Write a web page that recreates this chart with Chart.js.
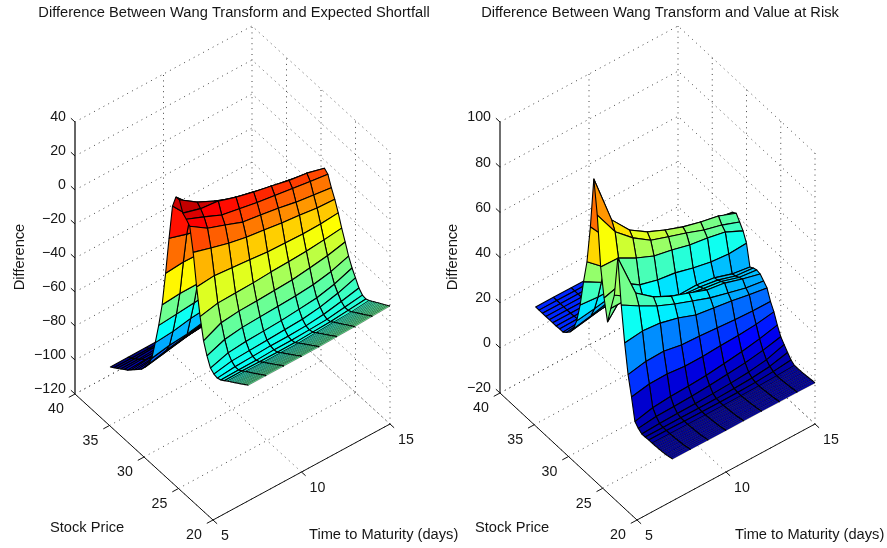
<!DOCTYPE html>
<html>
<head>
<meta charset="utf-8">
<title>Wang Transform differences</title>
<script src="https://cdn.jsdelivr.net/npm/chart.js@4"></script>
<style>
  html, body { margin: 0; padding: 0; background: #fff; }
  body { position: relative; width: 887px; height: 548px; overflow: hidden; }
  canvas { position: absolute; top: 0; }
  #esChart { left: 0; }
  #varChart { left: 433px; }
</style>
</head>
<body>
<canvas id="esChart" width="468" height="548"></canvas>
<canvas id="varChart" width="454" height="548"></canvas>
<script>
// axis ticks
const stockTicks = [20, 25, 30, 35, 40];
const maturityTicks = [5, 10, 15];
const esTicks = [-120, -100, -80, -60, -40, -20, 0, 20, 40];
const varTicks = [-20, 0, 20, 40, 60, 80, 100];

// mesh of the surfaces
const maturities = [7, 8, 9, 10, 11, 12, 13, 14, 15];
const stockPrices = [20, 20.25, 20.5, 20.75, 21, 21.25, 21.5, 21.75, 22, 22.25, 22.5, 22.75, 23,
  23.5, 24, 24.5, 25, 25.5, 26, 26.5, 27, 27.5, 28, 28.5, 29, 29.5, 30, 30.5, 31, 31.5, 32, 32.5,
  33, 33.5, 34, 34.5, 35, 35.5, 36, 36.5, 37, 37.5, 38, 38.5, 39, 39.5, 40];

// one row per stock price, one value per maturity
const esDifference = [
  [-52, -52, -52, -52, -52, -51.7, -51.5, -51, -50.6],
  [-52.7, -52.7, -52.7, -52.7, -52.7, -52.4, -52.2, -51.7, -51.3],
  [-53.5, -53.5, -53.5, -53.5, -53.5, -53.2, -52.9, -52.4, -52],
  [-54.2, -54.2, -54.3, -54.3, -54.2, -53.9, -53.6, -53.2, -52.6],
  [-55, -55, -55, -55, -55, -54.7, -54.3, -53.9, -53.3],
  [-55.7, -55.7, -55.8, -55.8, -55.7, -55.4, -55, -54.6, -53.9],
  [-56.4, -56.4, -56.5, -56.5, -56.5, -56.1, -55.8, -55.3, -54.6],
  [-57.1, -57.2, -57.3, -57.3, -57.2, -56.9, -56.5, -56, -55.2],
  [-57.9, -57.9, -58, -58, -58, -57.6, -57.2, -56.7, -55.9],
  [-58.6, -58.6, -58.8, -58.8, -58.7, -58.3, -57.9, -57.4, -56.5],
  [-59.3, -59.3, -59.5, -59.5, -59.5, -59.1, -58.6, -58.1, -57.2],
  [-60, -60, -60.2, -60.2, -60.2, -59.8, -59.3, -58.8, -57.9],
  [-60.7, -60.7, -61, -61, -61, -60.5, -60, -59.5, -58.5],
  [-62.3, -62.3, -62.5, -62.5, -62.5, -62, -61.5, -60.5, -59.4],
  [-63.8, -63.5, -63.5, -63, -63, -62.5, -62, -60.5, -59],
  [-64.5, -63.5, -63, -62.5, -62.5, -62, -61, -59, -56.7],
  [-64, -62, -61.5, -61, -60.5, -60, -58.5, -56, -52.6],
  [-62.3, -59, -58, -57.5, -57, -56, -55, -52.5, -48.6],
  [-57, -53, -51.5, -51, -50.5, -50, -49, -47, -43.5],
  [-50, -45, -43.8, -43.5, -43, -42.4, -41, -39.5, -37],
  [-37.6, -35.3, -35, -34.7, -34, -33.6, -33, -32, -30.7],
  [-22, -21, -22, -23, -24, -24.4, -24.7, -24.5, -23.6],
  [-3.5, -6.6, -9.4, -11.5, -13, -14.5, -15.5, -17, -17.5],
  [10, 3.2, -0.6, -4.5, -6, -7.6, -9.7, -11.2, -12.5],
  [12.3, 8, 3.5, 1.5, -0.5, -2, -3.5, -5, -6.5],
  [14, 11, 9.8, 6.5, 3.8, 1.7, -0.6, -2, -4.8],
  [20, 13, 8, 4, 1.5, -1, -3, -5, -7.5],
  [19.8, 9.4, 5, 1, -2, -5, -7, -9, -11.5],
  [12.6, 1, -3, -6, -9, -12, -14, -16, -18],
  [-8.2, -11.4, -14, -17, -20, -23, -25, -27, -29],
  [-30.6, -29.7, -30, -31, -32, -33, -34, -35, -36],
  [-51, -50, -50, -49, -49, -48, -48, -47, -47],
  [-65, -64, -63, -62, -61, -60, -59, -58, -58],
  [-77, -76, -74, -73, -71, -70, -69, -68, -67],
  [-88, -86, -85, -83, -81, -79, -78, -77, -76],
  [-93.5, -91, -89, -87, -85, -83, -82, -81, -80],
  [-97, -95, -93, -91, -89, -87, -85, -84, -83],
  [-100, -98, -96, -94.5, -93, -91, -90, -89, -88],
  [-102, -100.5, -99, -97.5, -96, -95, -94, -93, -92],
  [-104, -103, -102, -101, -100, -99, -98, -97, -96],
  [-106, -105, -104.5, -104, -103, -102, -101, -100, -100],
  [-108, -107.5, -107, -106.5, -106, -105, -104.5, -104, -103],
  [-109.5, -109, -109, -108.5, -108, -107.5, -107, -106.5, -106],
  [-111, -111, -110.5, -110.5, -110, -110, -109.5, -109, -109],
  [-112.5, -112.5, -112, -112, -112, -112, -111.5, -111.5, -111],
  [-114, -114, -114, -113.5, -113.5, -113.5, -113.5, -113, -113],
  [-115.4, -115.3, -115.2, -115.1, -115, -115, -115, -115, -115]
];

const varDifference = [
  [-1.5, -1.5, -1.6, -1.6, -1.6, -1.6, -1.7, -1.7, -1.8],
  [-1.7, -1.7, -1.8, -1.8, -1.8, -1.8, -1.8, -1.8, -1.8],
  [-1.9, -1.9, -2, -2, -2, -2, -2, -1.9, -1.9],
  [-2.1, -2.1, -2.2, -2.2, -2.2, -2.2, -2.1, -2.1, -2],
  [-2.3, -2.3, -2.4, -2.4, -2.4, -2.3, -2.3, -2.2, -2.1],
  [-2.4, -2.4, -2.5, -2.5, -2.5, -2.4, -2.4, -2.3, -2.2],
  [-2.5, -2.5, -2.6, -2.6, -2.6, -2.6, -2.5, -2.4, -2.3],
  [-2.6, -2.6, -2.7, -2.7, -2.7, -2.7, -2.6, -2.5, -2.4],
  [-2.7, -2.7, -2.8, -2.8, -2.8, -2.8, -2.7, -2.6, -2.4],
  [-2.7, -2.8, -2.8, -2.9, -2.9, -2.9, -2.8, -2.7, -2.5],
  [-2.8, -2.8, -2.9, -3, -3, -3, -2.9, -2.8, -2.5],
  [-2.8, -2.9, -3, -3.1, -3.1, -3.1, -3, -2.8, -2.5],
  [-2.9, -3, -3.1, -3.2, -3.2, -3.2, -3.1, -2.9, -2.5],
  [-2.9, -3, -3.1, -3.2, -3.2, -3.1, -2.9, -2.4, -1.5],
  [-3, -3, -3, -3, -3, -2.8, -2.4, -1.5, 0.4],
  [-3.1, -2.7, -2.5, -2.4, -2.2, -1.8, -1.2, 0, 2.5],
  [-2, -1, -0.8, -0.5, 0, 0.7, 1.5, 2.8, 4.6],
  [-0.4, 1.5, 2.2, 2.5, 3, 4, 5, 6.5, 8.3],
  [9.1, 10.6, 10.8, 10, 10, 10.5, 10.8, 11.5, 12.8],
  [17.6, 19.2, 19.4, 18, 17.6, 17, 16.4, 16, 16],
  [30.2, 31.2, 30.5, 28.5, 25.6, 24.4, 23.3, 21.8, 20.5],
  [45.6, 40.9, 36.7, 33.3, 30.4, 27.5, 25.4, 23.4, 22.2],
  [65, 45.3, 39.3, 35.4, 32.5, 29.6, 28.4, 26, 23.9],
  [47.2, 42, 36.5, 33.1, 30.2, 28.8, 27.7, 25.2, 24.3],
  [40, 40, 35.5, 31.7, 28.7, 28.1, 26.9, 24.5, 23.8],
  [32.5, 42, 34.6, 30.4, 27.4, 27.6, 26.5, 24, 22.8],
  [41.7, 44, 39, 36.9, 35.8, 33.7, 32.1, 31.4, 31.9],
  [54, 53.7, 49.5, 46.1, 44.5, 42.5, 41.3, 39.7, 36],
  [75.6, 64, 57, 51.7, 49, 46.4, 43.5, 41.4, 38.5],
  [90.2, 67.8, 59.1, 54, 50.6, 47.7, 45.6, 44, 41],
  [67.6, 58, 52, 48, 46, 44, 43, 41.5, 40],
  [50.7, 44, 42, 40, 38, 37, 36, 35, 34],
  [40.5, 36, 34, 33, 32, 31, 30, 30, 29],
  [28.7, 28, 28, 28, 28, 28, 27, 27, 27],
  [20.3, 21.5, 23, 24, 25, 25, 25, 25, 25],
  [15.3, 17, 19, 20.5, 22, 23, 23, 23, 23],
  [12.6, 14, 15.5, 17, 18, 19, 20, 20, 20],
  [11, 12, 13, 14, 15, 15, 16, 16, 16],
  [9.7, 10.3, 10.8, 11.2, 11.6, 12, 12, 12, 12],
  [9.7, 9.9, 10, 10.2, 10.4, 10.5, 10.5, 10.5, 10.5],
  [9.6, 9.7, 9.8, 9.9, 10, 10, 10, 10, 10],
  [9.6, 9.6, 9.7, 9.7, 9.8, 9.8, 9.8, 9.8, 9.8],
  [9.6, 9.6, 9.6, 9.6, 9.7, 9.7, 9.7, 9.7, 9.7],
  [9.6, 9.6, 9.6, 9.6, 9.6, 9.6, 9.6, 9.6, 9.6],
  [9.6, 9.6, 9.6, 9.6, 9.6, 9.6, 9.6, 9.6, 9.6],
  [9.6, 9.6, 9.6, 9.6, 9.6, 9.6, 9.6, 9.6, 9.6],
  [9.6, 9.6, 9.6, 9.6, 9.6, 9.6, 9.6, 9.6, 9.6]
];

const FONT = '"Liberation Sans", Arial, sans-serif';
const TITLE_SIZE = 14.67;
const TICK_SIZE = 14.2;
const TITLE_BLOCK = 24;
const FINE_BELOW = 23; // rows under this stock price sit very close together

// matlab jet
function jet(v) {
  const c = (d) => Math.round(255 * Math.min(1, Math.max(0, 1.5 - Math.abs(4 * v - d))));
  return `rgb(${c(3)},${c(2)},${c(1)})`;
}

function makeProjection(view) {
  return (s, t, z) => {
    const ds = (s - 20) / 20;
    const dt = (t - 5) / 10;
    const dz = (z - view.zMin) / (view.zMax - view.zMin);
    return {
      x: view.corner.x + dt * view.timeRun.x + ds * view.stockRun.x,
      y: view.corner.y + dt * view.timeRun.y + ds * view.stockRun.y - dz * view.height
    };
  };
}

function lineSet(points, color, width, dash) {
  return {
    data: points, showLine: true, fill: false, borderColor: color, borderWidth: width,
    borderDash: dash || [], pointRadius: 0, pointHoverRadius: 0, tension: 0, clip: false
  };
}

function buildFrame(view, project, zTicks) {
  const out = [];
  const dotted = (a, b) => out.push(lineSet([a, b], '#444', 1, [1, 4.4]));
  const { zMin, zMax } = view;
  zTicks.forEach(z => {
    out.push(lineSet([project(40, 5, z), project(40, 15, z), project(20, 15, z)], '#444', 1, [1, 4.4]));
  });
  maturityTicks.forEach(t => {
    if (t > 5) dotted(project(40, t, zMin), project(40, t, zMax));
    dotted(project(20, t, zMin), project(40, t, zMin));
  });
  stockTicks.forEach(s => {
    if (s < 40) dotted(project(s, 15, zMin), project(s, 15, zMax));
    dotted(project(s, 5, zMin), project(s, 15, zMin));
  });
  // solid axes
  out.push(lineSet([project(40, 5, zMin), project(40, 5, zMax)], view.zAxisColor, view.zAxisWidth));
  out.push(lineSet([project(40, 5, zMin), project(20, 5, zMin)], '#111', 1));
  out.push(lineSet([project(20, 5, zMin), project(20, 15, zMin)], '#111', 1));
  zTicks.forEach(z => out.push(lineSet([project(40, 5, z), project(40.6, 5, z)], '#111', 1)));
  stockTicks.forEach(s => out.push(lineSet([project(s, 5, zMin), project(s, 4.65, zMin)], '#111', 1)));
  maturityTicks.forEach(t => out.push(lineSet([project(20, t, zMin), project(19.4, t, zMin)], '#111', 1)));
  return out;
}

// far cells first, near cells last, so that they paint over each other
function buildSurface(view, project, rows) {
  const out = [];
  for (let i = stockPrices.length - 2; i >= 0; i--) {
    const fine = stockPrices[i] < FINE_BELOW;
    for (let j = maturities.length - 2; j >= 0; j--) {
      const s0 = stockPrices[i], s1 = stockPrices[i + 1];
      const t0 = maturities[j], t1 = maturities[j + 1];
      const a = project(s0, t0, rows[i][j]);
      const b = project(s0, t1, rows[i][j + 1]);
      const c = project(s1, t1, rows[i + 1][j + 1]);
      const d = project(s1, t0, rows[i + 1][j]);
      const v = (rows[i][j + 1] - view.cMin) / (view.cMax - view.cMin);
      out.push({
        data: [a, b, c, d, a], showLine: true, fill: 'shape', backgroundColor: jet(v),
        borderColor: '#000', borderWidth: fine ? 0.4 : view.meshWidth, borderJoinStyle: 'round',
        pointRadius: 0, pointHoverRadius: 0, tension: 0, clip: false
      });
      if (fine) {
        out.push(lineSet([a, d], '#000', view.meshWidth));
        out.push(lineSet([b, c], '#000', view.meshWidth));
      }
    }
  }
  return out;
}

function minusSign(v) {
  return String(v).replace('-', '\u2212');
}

function textPlugin(view, project, zTicks) {
  return {
    id: 'axisText',
    afterDraw(chart) {
      const { ctx, scales } = chart;
      const put = (text, x, y, align, size) => {
        ctx.font = `${size}px ${FONT}`;
        ctx.textAlign = align;
        ctx.textBaseline = 'middle';
        ctx.fillStyle = '#161616';
        ctx.fillText(text, scales.x.getPixelForValue(x), scales.y.getPixelForValue(y));
      };
      ctx.save();
      zTicks.forEach(z => {
        const p = project(40, 5, z);
        put(minusSign(z), p.x - 9, p.y - 4.5, 'right', TICK_SIZE);
      });
      stockTicks.forEach(s => {
        const p = project(s, 5, view.zMin);
        put(String(s), p.x - 19, p.y + 15.5, 'center', TICK_SIZE);
      });
      maturityTicks.forEach(t => {
        const p = project(20, t, view.zMin);
        put(String(t), p.x + 8, p.y + 16.5, 'left', TICK_SIZE);
      });
      put('Stock Price', view.stockLabel.x, view.stockLabel.y, 'left', TITLE_SIZE);
      put('Time to Maturity (days)', view.timeLabel.x, view.timeLabel.y, 'left', TITLE_SIZE);
      ctx.translate(scales.x.getPixelForValue(view.zLabel.x), scales.y.getPixelForValue(view.zLabel.y));
      ctx.rotate(-Math.PI / 2);
      ctx.font = `${TITLE_SIZE}px ${FONT}`;
      ctx.textAlign = 'center';
      ctx.textBaseline = 'middle';
      ctx.fillStyle = '#161616';
      ctx.fillText('Difference', 0, 0);
      ctx.restore();
    }
  };
}

function drawPanel(canvasId, title, view, rows, zTicks) {
  const project = makeProjection(view);
  const datasets = buildFrame(view, project, zTicks).concat(buildSurface(view, project, rows));
  // chart.js paints the first dataset last
  datasets.reverse();
  new Chart(document.getElementById(canvasId), {
    type: 'scatter',
    data: { datasets },
    plugins: [textPlugin(view, project, zTicks)],
    options: {
      responsive: false,
      animation: false,
      devicePixelRatio: 1,
      events: [],
      layout: { padding: 0 },
      plugins: {
        legend: { display: false },
        tooltip: { enabled: false },
        title: {
          display: true,
          text: title,
          color: '#161616',
          font: { family: FONT, size: TITLE_SIZE, weight: 'normal', lineHeight: 1.2 },
          padding: { top: 4, bottom: TITLE_BLOCK - 4 - TITLE_SIZE * 1.2 }
        }
      },
      scales: {
        x: { type: 'linear', display: false, min: view.left, max: view.right },
        y: { type: 'linear', display: false, min: TITLE_BLOCK, max: 548, reverse: true }
      }
    }
  });
}

drawPanel('esChart', 'Difference Between Wang Transform and Expected Shortfall', {
  left: 0, right: 468,
  corner: { x: 213, y: 520 }, timeRun: { x: 177, y: -96 }, stockRun: { x: -138, y: -126 }, height: 272,
  zMin: -120, zMax: 40, cMin: -115.4, cMax: 20,
  zAxisColor: '#666', zAxisWidth: 2, meshWidth: 1.1,
  stockLabel: { x: 50, y: 528 }, timeLabel: { x: 309, y: 535 }, zLabel: { x: 20, y: 257 }
}, esDifference, esTicks);

drawPanel('varChart', 'Difference Between Wang Transform and Value at Risk', {
  left: 433, right: 887,
  corner: { x: 637, y: 520 }, timeRun: { x: 178, y: -96 }, stockRun: { x: -137, y: -127 }, height: 271,
  zMin: -20, zMax: 100, cMin: -6, cMax: 90.2,
  zAxisColor: '#333', zAxisWidth: 1.4, meshWidth: 1.1,
  stockLabel: { x: 475, y: 528 }, timeLabel: { x: 735, y: 535 }, zLabel: { x: 453, y: 257 }
}, varDifference, varTicks);
</script>
</body>
</html>
